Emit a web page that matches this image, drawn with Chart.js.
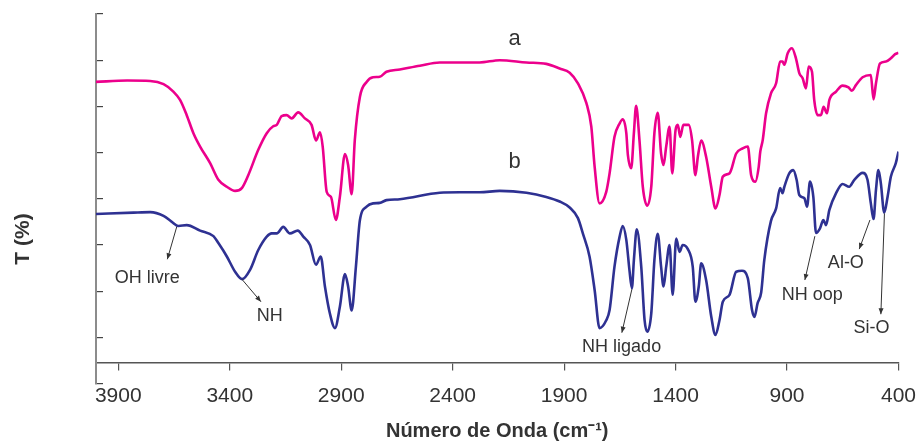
<!DOCTYPE html>
<html>
<head>
<meta charset="utf-8">
<script src="https://cdn.jsdelivr.net/npm/chart.js@4.4.1/dist/chart.umd.min.js"></script>
<style>
  html, body { margin: 0; padding: 0; background: #fff; }
  #wrap { width: 920px; height: 445px; }
</style>
</head>
<body>
<div id="wrap"><canvas id="chartFTIR" width="920" height="445"></canvas></div>
<script>
// ── Espectro a (rosa) ──
const waveA = [4000,3860,3757,3697,3653,3623,3593,3563,3533,3488,
  3451,3413,3376,3346,3317,3272,3234,3205,3189,3167,
  3145,3122,3093,3063,3033,3013,2995,2983,2965,2946,
  2924,2906,2883,2869,2853,2839,2816,2786,2757,2727,
  2697,2637,2547,2458,2368,2279,2189,2069,1980,1920,
  1875,1838,1800,1778,1763,1741,1711,1696,1674,1651,
  1637,1621,1614,1599,1587,1577,1562,1547,1527,1509,
  1495,1480,1465,1454,1442,1427,1415,1400,1390,1379,
  1365,1341,1326,1311,1300,1285,1263,1240,1221,1203,
  1188,1158,1128,1099,1076,1061,1042,1027,1020,1009,
  994,972,949,931,920,912,897,878,860,845,
  830,815,803,788,778,763,748,736,721,710,
  680,651,624,609,591,561,524,512,501,483,
  456,434,415,400];
const transA = [65.3,65.6,65.5,64.8,63.2,61.4,58.1,54.2,51.3,47.7,
  44.1,42.6,41.7,42.3,45.1,50.6,54.2,55.7,56.0,57.9,
  58.1,57.4,58.7,57.4,56.0,52.6,54.4,51.3,41.5,40.4,
  35.4,40.4,49.7,47.3,41.0,52.7,62.1,65.3,66.3,66.4,
  67.5,68.0,68.8,69.5,69.5,69.5,70.0,69.5,69.2,68.2,
  67.3,65.0,60.7,55.6,46.9,39.0,41.5,45.5,53.4,56.3,
  57.2,54.2,49.5,46.6,54.2,60.1,52.7,42.6,38.5,42.6,
  54.2,58.6,49.8,47.3,51.3,55.6,45.5,54.9,56.0,53.4,
  56.0,56.0,52.7,45.1,49.1,52.6,49.1,42.6,37.9,40.8,
  44.8,45.5,49.8,50.9,51.3,45.1,43.7,46.9,50.2,52.7,
  58.5,62.8,65.0,69.7,69.7,69.0,71.5,72.6,70.4,67.2,
  66.1,63.9,68.6,67.5,61.4,58.1,58.1,59.9,58.5,61.4,
  63.2,64.5,64.1,63.4,64.6,66.3,66.8,61.5,65.0,69.3,
  69.7,70.4,71.3,71.6];

// ── Espectro b (azul) ──
const waveB = [4000,3832,3757,3697,3660,3630,3593,3533,3473,3451,
  3413,3376,3344,3309,3272,3234,3212,3189,3160,3130,
  3095,3070,3040,3013,2992,2973,2951,2928,2906,2883,
  2869,2853,2834,2816,2786,2757,2727,2697,2637,2458,
  2368,2279,2189,2069,1980,1920,1875,1838,1816,1786,
  1763,1741,1711,1696,1674,1651,1637,1621,1607,1596,
  1587,1574,1554,1539,1527,1509,1495,1480,1465,1454,
  1442,1427,1413,1397,1382,1368,1345,1323,1311,1296,
  1285,1263,1240,1221,1203,1188,1158,1128,1102,1076,
  1057,1046,1032,1016,1002,972,949,931,920,912,
  890,872,857,845,822,810,797,782,770,752,
  737,725,710,680,651,621,598,561,539,524,
  512,501,490,479,464,449,434,412,400];
const transB = [36.7,37.0,37.1,36.3,35.0,34.1,34.3,33.1,31.9,30.4,
  27.5,24.2,22.6,24.6,28.9,31.8,32.5,32.5,33.9,32.5,
  33.1,31.8,30.0,25.7,27.5,21.0,15.2,12.0,16.6,23.7,
  21.0,15.8,25.3,35.4,38.3,39.0,39.1,39.7,39.9,41.3,
  41.4,41.4,41.7,41.3,40.4,39.4,38.1,35.8,32.5,27.5,
  20.2,12.0,13.7,15.9,25.3,31.8,34.1,31.1,24.6,20.6,
  26.7,33.4,25.3,13.7,11.2,15.2,26.7,32.4,25.3,21.0,
  25.3,30.0,19.2,31.4,28.5,30.0,29.1,25.3,17.7,21.0,
  26.0,22.4,14.5,10.5,13.7,17.7,19.2,24.2,24.4,22.8,
  15.9,14.4,17.4,19.7,26.7,35.2,37.9,42.3,41.2,42.6,
  45.5,46.2,44.1,40.8,40.1,38.3,43.7,40.4,32.6,33.6,
  35.4,34.3,37.6,41.2,43.2,42.6,44.1,45.6,44.1,39.0,
  35.6,41.9,46.2,43.3,37.0,40.4,44.8,47.7,50.2];

// ── Ejes ──
const xTickValues = [3900, 3400, 2900, 2400, 1900, 1400, 900, 400];
const yTickValues = [0, 10, 20, 30, 40, 50, 60, 70, 80];
const xTitle = 'Número de Onda (cm⁻¹)';
const yTitle = 'T (%)';

// ── Etiquetas de las curvas ──
const curveNames = ['a', 'b'];
const curveNameX = [2122, 2122];
const curveNameY = [74.6, 48.0];

// ── Flechas de bandas ──
const bandLabels = ['OH livre', 'NH', 'NH ligado', 'NH oop', 'Al-O', 'Si-O'];
const bandFromX  = [3638, 3346, 1596, 775, 528, 463];
const bandFromY  = [33.9, 22.6, 20.4, 31.9, 35.4, 36.8];
const bandToX    = [3680, 3260, 1641, 820, 576, 479];
const bandToY    = [26.9, 17.7, 11.0, 22.4, 29.1, 15.0];
const bandTextX  = [3770, 3220, 1642, 787, 636, 521];
const bandTextY  = [22.9, 14.5, 8.0, 19.2, 26.0, 12.1];

const FONT = "'Liberation Sans', Arial, sans-serif";
Chart.defaults.font.family = FONT;

function toPoints(xs, ys) {
    return xs.map((x, i) => ({ x, y: ys[i] }));
}

// ── Plugin: textos, flechas y título del eje Y ──
const bandArrows = {
    id: 'bandArrows',
    afterDatasetsDraw(chart) {
        const { ctx, chartArea, scales: { x, y } } = chart;
        ctx.save();
        ctx.fillStyle = '#333';
        ctx.textAlign = 'center';
        ctx.textBaseline = 'middle';

        // título eje Y (no centrado en el área, como en el original)
        ctx.save();
        ctx.translate(23, chartArea.top + 225);
        ctx.rotate(-Math.PI / 2);
        ctx.font = 'bold 21px ' + FONT;
        ctx.fillText(yTitle, 0, 0);
        ctx.restore();

        ctx.font = '22px ' + FONT;
        curveNames.forEach((t, i) => {
            ctx.fillText(t, x.getPixelForValue(curveNameX[i]), y.getPixelForValue(curveNameY[i]));
        });

        ctx.font = '18px ' + FONT;
        ctx.strokeStyle = '#333';
        ctx.lineWidth = 1;
        bandLabels.forEach((t, i) => {
            const x1 = x.getPixelForValue(bandFromX[i]), y1 = y.getPixelForValue(bandFromY[i]);
            const x2 = x.getPixelForValue(bandToX[i]),   y2 = y.getPixelForValue(bandToY[i]);
            ctx.beginPath();
            ctx.moveTo(x1, y1);
            ctx.lineTo(x2, y2);
            ctx.stroke();
            const ang = Math.atan2(y2 - y1, x2 - x1);
            ctx.beginPath();
            ctx.moveTo(x2, y2);
            ctx.lineTo(x2 - 6 * Math.cos(ang) + 2.5 * Math.sin(ang), y2 - 6 * Math.sin(ang) - 2.5 * Math.cos(ang));
            ctx.lineTo(x2 - 6 * Math.cos(ang) - 2.5 * Math.sin(ang), y2 - 6 * Math.sin(ang) + 2.5 * Math.cos(ang));
            ctx.closePath();
            ctx.fill();
            ctx.fillText(t, x.getPixelForValue(bandTextX[i]), y.getPixelForValue(bandTextY[i]));
        });
        ctx.restore();
    }
};

new Chart(document.getElementById('chartFTIR'), {
    type: 'line',
    data: {
        datasets: [
            { label: 'a', data: toPoints(waveA, transA), borderColor: '#ec008c', borderWidth: 2.6, pointRadius: 0, cubicInterpolationMode: 'monotone' },
            { label: 'b', data: toPoints(waveB, transB), borderColor: '#2e3192', borderWidth: 2.6, pointRadius: 0, cubicInterpolationMode: 'monotone' }
        ]
    },
    options: {
        responsive: false,
        animation: false,
        devicePixelRatio: 1,
        // el eje X va anclado a y=4.6 y no ocupa espacio: se deja margen abajo
        layout: { padding: { left: 0, top: 14, right: 20.7, bottom: 61.5 } },
        plugins: {
            legend: { display: false },
            tooltip: { enabled: false }
        },
        scales: {
            x: {
                type: 'linear',
                min: 400, max: 4000,
                reverse: true,
                position: { y: 4.6 },
                afterBuildTicks: s => { s.ticks = xTickValues.map(v => ({ value: v })); },
                afterFit: s => { s.height = 80.5; },
                ticks: { color: '#333', font: { size: 21, lineHeight: 2.2 }, padding: 4, maxRotation: 0, callback: v => String(v) },
                grid: { drawOnChartArea: false, drawTicks: true, tickLength: 7, color: '#555', lineWidth: 1.2 },
                border: { display: true, color: '#555', width: 1.5 },
                title: {
                    display: true,
                    text: xTitle,
                    color: '#333',
                    font: { size: 20, weight: 'bold' },
                    padding: { top: 0, bottom: -1 }
                }
            },
            y: {
                type: 'linear',
                min: 0, max: 80,
                afterBuildTicks: s => { s.ticks = yTickValues.map(v => ({ value: v })); },
                afterFit: s => { s.width = 96; },
                ticks: { display: false },
                grid: { drawOnChartArea: false, drawTicks: true, tickLength: -7, color: '#444', lineWidth: 1.2 },
                border: { display: true, color: '#8c8c8c', width: 2 }
            }
        }
    },
    plugins: [bandArrows]
});
</script>
</body>
</html>
